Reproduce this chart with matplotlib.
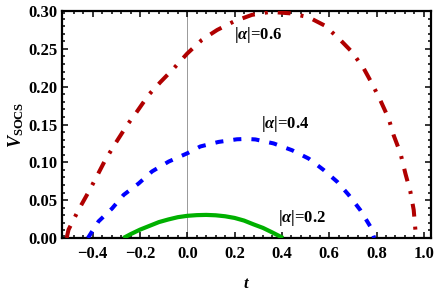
import numpy as np
import matplotlib
matplotlib.use("Agg")
import matplotlib.pyplot as plt
from matplotlib.ticker import MultipleLocator, FuncFormatter

# ==========================
# Data
# ==========================
t_06 = [-0.51, -0.502, -0.46, -0.417, -0.38, -0.347, -0.304, -0.255, -0.213, -0.164,
        -0.114, -0.058, 0.0, 0.062, 0.126, 0.195, 0.273, 0.351, 0.436, 0.512,
        0.58, 0.64, 0.696, 0.746, 0.781, 0.816, 0.851, 0.872, 0.901, 0.922,
        0.943, 0.957, 0.964, 0.97]
v_06 = [0.0, 0.011, 0.037, 0.061, 0.083, 0.103, 0.125, 0.149, 0.167, 0.189,
        0.206, 0.224, 0.244, 0.262, 0.275, 0.286, 0.295, 0.299, 0.297, 0.292,
        0.281, 0.264, 0.246, 0.224, 0.204, 0.182, 0.158, 0.136, 0.112, 0.085,
        0.061, 0.037, 0.011, 0.0]

t_04 = [-0.42, -0.375, -0.318, -0.269, -0.206, -0.149, -0.079, 0.0, 0.055, 0.132,
        0.21, 0.25, 0.288, 0.365, 0.443, 0.513, 0.576, 0.633, 0.682, 0.731,
        0.774, 0.79]
v_04 = [0.0, 0.022, 0.039, 0.057, 0.072, 0.088, 0.101, 0.112, 0.121, 0.127,
        0.1305, 0.131, 0.1303, 0.125, 0.116, 0.105, 0.090, 0.0745, 0.057, 0.037,
        0.015, 0.0]

t_02 = [-0.27, -0.24, -0.2, -0.16, -0.12, -0.08, -0.04, 0.0, 0.04, 0.08,
        0.12, 0.16, 0.2, 0.24, 0.28, 0.32, 0.36, 0.405]
v_02 = [0.0, 0.005, 0.011, 0.016, 0.021, 0.0245, 0.0275, 0.0293, 0.0302, 0.0305,
        0.0300, 0.0287, 0.0265, 0.0230, 0.0180, 0.0133, 0.0072, 0.0]

labels = ["|α|=0.6", "|α|=0.4", "|α|=0.2"]
label_pos = [(0.30, 0.269), (0.414, 0.151), (0.487, 0.026)]

# ==========================
# Style
# ==========================
plt.rcParams['font.family'] = ['Liberation Serif', 'DejaVu Serif']
plt.rcParams['font.weight'] = 'bold'
plt.rcParams['mathtext.fontset'] = 'custom'
plt.rcParams['mathtext.rm'] = 'Liberation Serif:bold'
plt.rcParams['mathtext.it'] = 'Liberation Serif:italic:bold'
plt.rcParams['mathtext.bf'] = 'Liberation Serif:bold'

fig = plt.figure(figsize=(4.36, 2.92), dpi=100)
ax = fig.add_axes([0.142, 0.185, 0.8465, 0.777])

ax.axvline(0, color='#999999', lw=0.7, zorder=1)

ax.plot(t_06, v_06, color='#b00000', lw=2.9, dashes=(3.2, 2.5, 0.75, 2.5), zorder=3)
ax.plot(t_04, v_04, color='#0000ff', lw=2.9, dashes=(2.0, 2.5), zorder=3)
ax.plot(t_02, v_02, color='#00b000', lw=3.0, solid_capstyle='butt', zorder=3)

for lab, (x, y) in zip(labels, label_pos):
    txt = lab.replace("α", r"$\alpha$")
    ax.text(x, y, txt, ha='center', va='center', fontsize=12, fontweight='bold')

ax.set_xlim(-0.53, 1.03)
ax.set_ylim(0, 0.30)

ax.xaxis.set_major_locator(MultipleLocator(0.2))
ax.xaxis.set_minor_locator(MultipleLocator(0.04))
ax.yaxis.set_major_locator(MultipleLocator(0.05))
ax.yaxis.set_minor_locator(MultipleLocator(0.01))
ax.xaxis.set_major_formatter(FuncFormatter(lambda v, p: f"{v:.1f}".replace("-", "\u2212")))
ax.yaxis.set_major_formatter(FuncFormatter(lambda v, p: f"{v:.2f}"))

ax.tick_params(which='both', direction='in', top=True, right=True, labelsize=12, width=1.1)
ax.tick_params(which='major', length=4)
ax.tick_params(which='minor', length=2)
ax.tick_params(axis='x', pad=6)
ax.tick_params(axis='y', pad=3)
for lbl in ax.get_xticklabels() + ax.get_yticklabels():
    lbl.set_fontweight('bold')

for sp in ax.spines.values():
    sp.set_linewidth(1.6)

ax.set_xlabel(r"$t$", fontsize=12, labelpad=10)
ax.set_ylabel(r"$V_{\mathrm{SOCS}}$", fontsize=13, labelpad=2)

fig.savefig("out.png", dpi=100)
